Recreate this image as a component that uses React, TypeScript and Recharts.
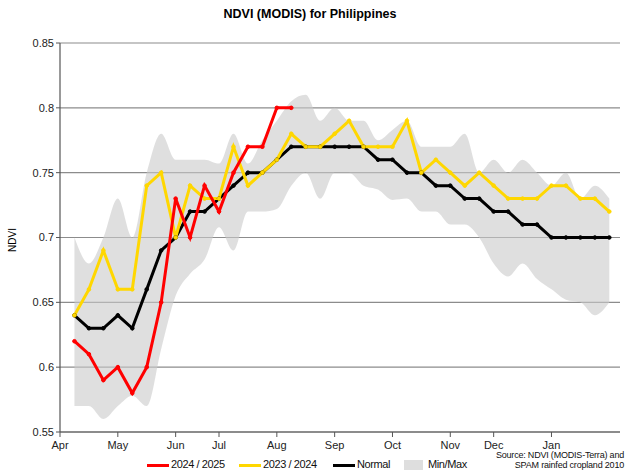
import { ComposedChart, Line, Area, XAxis, YAxis, CartesianGrid } from 'recharts';

// dekads, index 0 = 2nd dekad of April
const monthTicks = [-1, 3, 7, 10, 14, 18, 22, 26, 29, 33];
const monthLabels = ['Apr', 'May', 'Jun', 'Jul', 'Aug', 'Sep', 'Oct', 'Nov', 'Dec', 'Jan'];
const yTicks = [0.55, 0.6, 0.65, 0.7, 0.75, 0.8, 0.85];

const season2425 = [0.62, 0.61, 0.59, 0.6, 0.58, 0.6, 0.65, 0.73, 0.7, 0.74, 0.72, 0.75, 0.77, 0.77, 0.8, 0.8];
const season2324 = [
  0.64, 0.66, 0.69, 0.66, 0.66, 0.74, 0.75, 0.7, 0.74, 0.73,
  0.73, 0.77, 0.74, 0.75, 0.76, 0.78, 0.77, 0.77, 0.78, 0.79,
  0.77, 0.77, 0.77, 0.79, 0.75, 0.76, 0.75, 0.74, 0.75, 0.74,
  0.73, 0.73, 0.73, 0.74, 0.74, 0.73, 0.73, 0.72,
];
const normal = [
  0.64, 0.63, 0.63, 0.64, 0.63, 0.66, 0.69, 0.7, 0.72, 0.72,
  0.73, 0.74, 0.75, 0.75, 0.76, 0.77, 0.77, 0.77, 0.77, 0.77,
  0.77, 0.76, 0.76, 0.75, 0.75, 0.74, 0.74, 0.73, 0.73, 0.72,
  0.72, 0.71, 0.71, 0.7, 0.7, 0.7, 0.7, 0.7,
];
const minVals = [
  0.57, 0.57, 0.56, 0.57, 0.578, 0.57, 0.614, 0.655, 0.672, 0.683,
  0.708, 0.69, 0.72, 0.72, 0.722, 0.74, 0.75, 0.73, 0.75, 0.75,
  0.74, 0.737, 0.729, 0.73, 0.72, 0.72, 0.71, 0.71, 0.7, 0.68,
  0.67, 0.68, 0.668, 0.66, 0.652, 0.65, 0.64, 0.65,
];
const maxVals = [
  0.7, 0.68, 0.7, 0.73, 0.7, 0.75, 0.78, 0.76, 0.76, 0.76,
  0.757, 0.78, 0.757, 0.775, 0.79, 0.805, 0.81, 0.79, 0.8, 0.79,
  0.79, 0.775, 0.783, 0.79, 0.77, 0.77, 0.77, 0.78, 0.75, 0.76,
  0.75, 0.76, 0.75, 0.74, 0.75, 0.73, 0.74, 0.73,
];

const data = normal.map((n, i) => ({
  i,
  cur: season2425[i] ?? null,
  prev: season2324[i],
  normal: n,
  band: [minVals[i], maxVals[i]],
}));

const font = '"Liberation Sans", Arial, sans-serif';

const legendItems = [
  { label: '2024 / 2025', color: '#ff0000', x: 147, tx: 171 },
  { label: '2023 / 2024', color: '#ffd700', x: 239, tx: 263 },
  { label: 'Normal', color: '#000000', x: 333, tx: 357 },
];

export default function App() {
  return (
    <div style={{ position: 'absolute', left: 0, top: 0, width: 628, height: 473, fontFamily: font, background: '#fff' }}>
      <div style={{ position: 'absolute', top: 7, left: 0, width: 620, textAlign: 'center', fontSize: 12.5, fontWeight: 'bold' }}>
        NDVI (MODIS) for Philippines
      </div>
      <div style={{ position: 'absolute', left: 12, top: 240, fontSize: 10, transform: 'translate(-50%, -50%) rotate(-90deg)' }}>
        NDVI
      </div>

      <ComposedChart width={628} height={473} data={data} margin={{ top: 43, right: 8, bottom: 11, left: 0 }}>
        <CartesianGrid vertical={false} stroke="#8c8c8c" strokeWidth={1.2} />
        <XAxis
          dataKey="i"
          type="number"
          domain={[-1, 37.74]}
          ticks={monthTicks}
          tickFormatter={(v: number) => monthLabels[monthTicks.indexOf(v)] ?? ''}
          allowDataOverflow
          interval={0}
          tick={{ fontSize: 11, fill: '#222', fontFamily: font }}
          tickSize={5}
          tickMargin={4}
          tickLine={{ stroke: '#555' }}
          axisLine={{ stroke: '#555', strokeWidth: 1.2 }}
        />
        <YAxis
          domain={[0.55, 0.85]}
          ticks={yTicks}
          width={60}
          tickFormatter={(v: number) => String(+v.toFixed(2))}
          tick={{ fontSize: 11, fill: '#222', fontFamily: font }}
          tickSize={4}
          tickLine={{ stroke: '#555' }}
          axisLine={{ stroke: '#555', strokeWidth: 1.2 }}
        />
        <Area dataKey="band" type="monotone" fill="#c9c9c9" fillOpacity={0.6} stroke="none" isAnimationActive={false} />
        <Line dataKey="normal" stroke="#000" strokeWidth={3} dot={{ r: 1.8, fill: '#000', stroke: '#000', strokeWidth: 1 }} isAnimationActive={false} />
        <Line dataKey="prev" stroke="#ffd700" strokeWidth={3} dot={{ r: 1.8, fill: '#ffd700', stroke: '#ffd700', strokeWidth: 1 }} isAnimationActive={false} />
        <Line dataKey="cur" stroke="#ff0000" strokeWidth={3} dot={{ r: 1.8, fill: '#ff0000', stroke: '#ff0000', strokeWidth: 1 }} connectNulls={false} isAnimationActive={false} />
      </ComposedChart>

      {legendItems.map(it => (
        <div key={it.label}>
          <div style={{ position: 'absolute', left: it.x, top: 464, width: 22, height: 3, background: it.color }} />
          <div style={{ position: 'absolute', left: it.tx, top: 458, fontSize: 11, letterSpacing: -0.4, color: '#111' }}>{it.label}</div>
        </div>
      ))}
      <div style={{ position: 'absolute', left: 404, top: 460, width: 19, height: 10, background: '#dedede' }} />
      <div style={{ position: 'absolute', left: 428, top: 458, fontSize: 11, letterSpacing: -0.4, color: '#111' }}>Min/Max</div>

      <div style={{ position: 'absolute', right: 4, top: 450, fontSize: 9, lineHeight: '10px', letterSpacing: -0.2, textAlign: 'right', color: '#111' }}>
        Source: NDVI (MODIS-Terra) and<br />SPAM rainfed cropland 2010
      </div>
    </div>
  );
}
